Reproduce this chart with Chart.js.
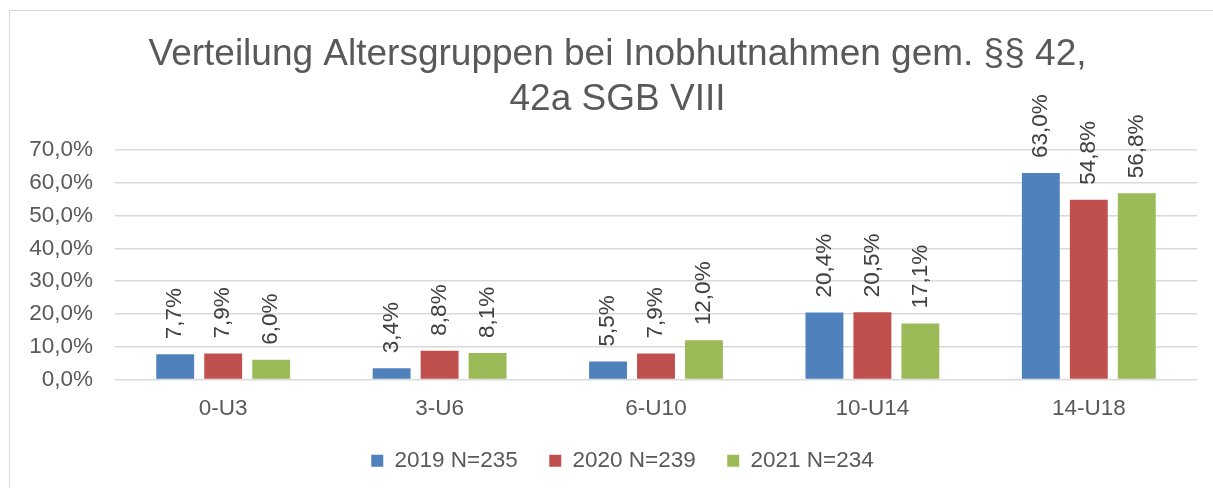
<!DOCTYPE html>
<html>
<head>
<meta charset="utf-8">
<script src="https://cdn.jsdelivr.net/npm/chart.js@4/dist/chart.umd.min.js"></script>
<style>
  html, body { margin: 0; padding: 0; background: #fff; overflow: hidden; }
  #box { position: absolute; left: 9px; top: 10px; width: 1224px; height: 478px;
         border-left: 1px solid #d9d9d9; border-top: 1px solid #d9d9d9; }
</style>
</head>
<body>
<div id="box"><canvas id="chart" width="1224" height="478"></canvas></div>
<script>
const categories = ['0-U3', '3-U6', '6-U10', '10-U14', '14-U18'];
const seriesNames = ['2019 N=235', '2020 N=239', '2021 N=234'];
const values2019 = [7.7, 3.4, 5.5, 20.4, 63.0];
const values2020 = [7.9, 8.8, 7.9, 20.5, 54.8];
const values2021 = [6.0, 8.1, 12.0, 17.1, 56.8];
const colors = ['#4f81bd', '#c0504d', '#9bbb59'];
const titleLines = ['Verteilung Altersgruppen bei Inobhutnahmen gem. §§ 42,', '42a SGB VIII'];

const fmt = v => v.toFixed(1).replace('.', ',') + '%';

// rotated value labels above each bar
const barLabels = {
  id: 'barLabels',
  afterDatasetsDraw(chart) {
    const ctx = chart.ctx;
    ctx.save();
    ctx.font = '22.5px "Liberation Sans", Arial, sans-serif';
    ctx.fillStyle = '#404040';
    ctx.textAlign = 'left';
    ctx.textBaseline = 'middle';
    chart.data.datasets.forEach((ds, i) => {
      chart.getDatasetMeta(i).data.forEach((bar, j) => {
        ctx.save();
        ctx.translate(bar.x, bar.y - 15);
        ctx.rotate(-Math.PI / 2);
        ctx.fillText(fmt(ds.data[j]), 0, 0);
        ctx.restore();
      });
    });
    ctx.restore();
  }
};

// title and legend sit a bit right of the canvas centre in the original
const shiftBoxes = {
  id: 'shiftBoxes',
  afterLayout(chart) {
    chart.titleBlock.left += 14; chart.titleBlock.right += 14;
    chart.legend.left += 19; chart.legend.right += 19;
  }
};

Chart.defaults.font.family = '"Liberation Sans", Arial, sans-serif';
Chart.defaults.color = '#595959';

const data = [values2019, values2020, values2021];
new Chart(document.getElementById('chart').getContext('2d'), {
  type: 'bar',
  data: {
    labels: categories,
    datasets: seriesNames.map((name, i) => ({
      label: name,
      data: data[i],
      backgroundColor: colors[i],
      categoryPercentage: 0.665,
      barPercentage: 0.79
    }))
  },
  options: {
    responsive: false,
    animation: false,
    layout: { padding: { left: 0, right: 37, top: 0, bottom: 7 } },
    plugins: {
      title: {
        display: true,
        text: titleLines,
        color: '#595959',
        font: { size: 37, weight: 'normal', lineHeight: 1.216 },
        padding: { top: 21, bottom: 28 }
      },
      legend: {
        position: 'bottom',
        labels: {
          boxWidth: 12, boxHeight: 12, padding: 19, font: { size: 22.5 }, color: '#595959',
          generateLabels(chart) {
            const items = Chart.defaults.plugins.legend.labels.generateLabels(chart);
            items.forEach((it, i) => { if (i < items.length - 1) it.text += '  '; });
            return items;
          }
        }
      },
      tooltip: { enabled: false }
    },
    scales: {
      x: {
        grid: { display: false },
        border: { display: false },
        ticks: { font: { size: 22.5 }, padding: 8 }
      },
      y: {
        min: 0, max: 70,
        afterFit(scale) { scale.width = 105; },
        ticks: { stepSize: 10, font: { size: 22.5 }, padding: 22, callback: v => fmt(v) },
        grid: { color: '#d9d9d9', lineWidth: 1.5, drawTicks: false },
        border: { display: false }
      }
    }
  },
  plugins: [barLabels, shiftBoxes]
});
</script>
</body>
</html>
